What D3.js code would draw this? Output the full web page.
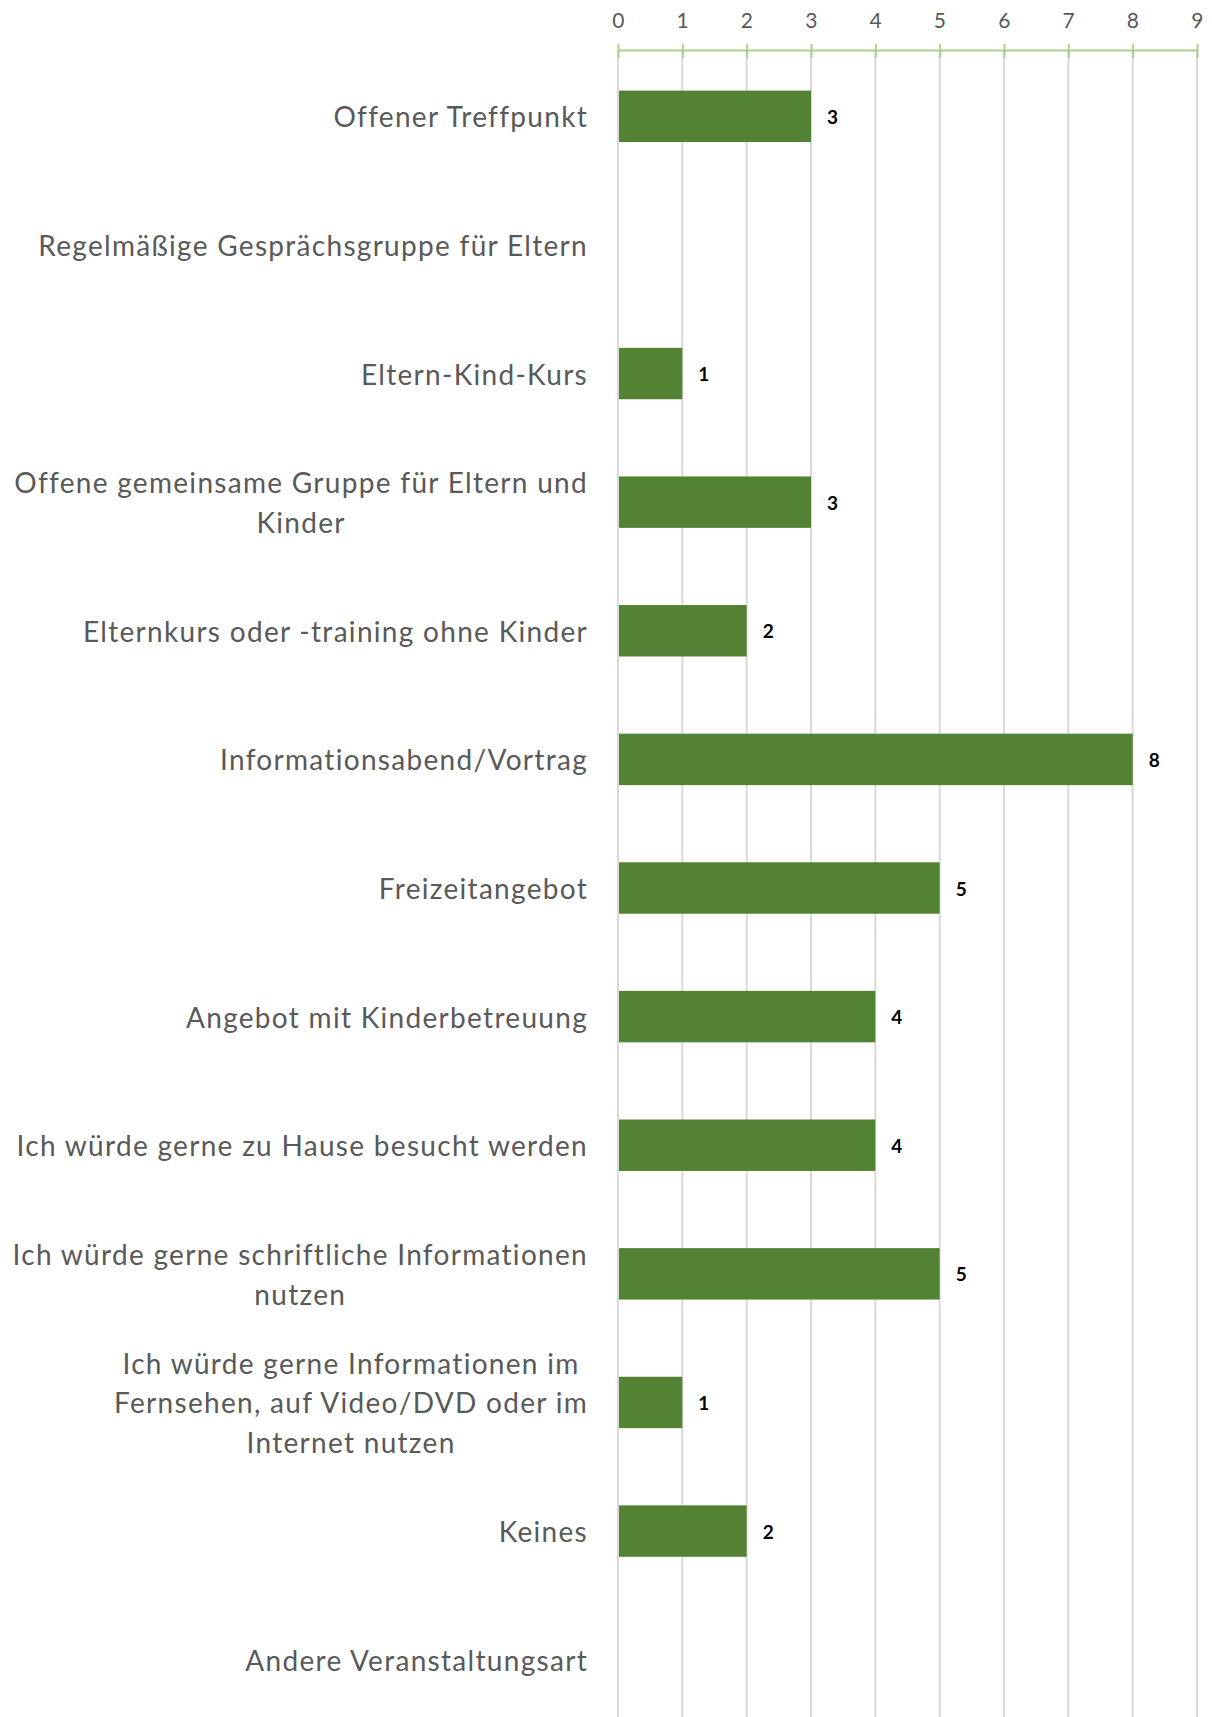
<!DOCTYPE html>
<html>
<head>
<meta charset="utf-8">
<script src="https://cdn.jsdelivr.net/npm/d3@7"></script>
<style>
  html, body { margin: 0; padding: 0; background: #fff; }
  svg { display: block; }
</style>
</head>
<body>
<svg id="chart" width="1212" height="1717"></svg>
<script>
const categories = [
  "Offener Treffpunkt",
  "Regelmäßige Gesprächsgruppe für Eltern",
  "Eltern-Kind-Kurs",
  "Offene gemeinsame Gruppe für Eltern und Kinder",
  "Elternkurs oder -training ohne Kinder",
  "Informationsabend/Vortrag",
  "Freizeitangebot",
  "Angebot mit Kinderbetreuung",
  "Ich würde gerne zu Hause besucht werden",
  "Ich würde gerne schriftliche Informationen nutzen",
  "Ich würde gerne Informationen im Fernsehen, auf Video/DVD oder im Internet nutzen",
  "Keines",
  "Andere Veranstaltungsart"
];
const labelLines = [
  ["Offener Treffpunkt"],
  ["Regelmäßige Gesprächsgruppe für Eltern"],
  ["Eltern-Kind-Kurs"],
  ["Offene gemeinsame Gruppe für Eltern und", "Kinder"],
  ["Elternkurs oder -training ohne Kinder"],
  ["Informationsabend/Vortrag"],
  ["Freizeitangebot"],
  ["Angebot mit Kinderbetreuung"],
  ["Ich würde gerne zu Hause besucht werden"],
  ["Ich würde gerne schriftliche Informationen", "nutzen"],
  ["Ich würde gerne Informationen im", "Fernsehen, auf Video/DVD oder im", "Internet nutzen"],
  ["Keines"],
  ["Andere Veranstaltungsart"]
];
const values = [3, 0, 1, 3, 2, 8, 5, 4, 4, 5, 1, 2, 0];
const tickValues = [0, 1, 2, 3, 4, 5, 6, 7, 8, 9];

const svg = d3.select("#chart");
const W = 1212, H = 1717;
const x0 = 618, x1 = 1197;
const axisY = 50;
const fontFam = "Lato, 'Open Sans', sans-serif";

const x = d3.scaleLinear().domain([0, 9]).range([x0, x1]);
const y = d3.scaleBand().domain(categories).range([52, 1724]).paddingInner(0.6).paddingOuter(0.3);

// gridlines
svg.append("g").selectAll("line").data(tickValues).join("line")
  .attr("x1", d => x(d)).attr("x2", d => x(d))
  .attr("y1", axisY).attr("y2", H)
  .attr("stroke", "#d9d9d9").attr("stroke-width", 2);

// top axis
const axis = d3.axisTop(x).tickValues(tickValues).tickSize(0).tickPadding(0).tickFormat(d3.format("d"));
const ga = svg.append("g").attr("transform", `translate(0,${axisY})`).call(axis);
ga.select(".domain").attr("stroke", "#a9d18e").attr("stroke-width", 2);
ga.selectAll(".tick line").remove();
ga.selectAll(".tick").append("line")
  .attr("y1", -6).attr("y2", 8)
  .attr("stroke", "#a9d18e").attr("stroke-width", 2);
ga.selectAll(".tick text")
  .attr("y", -22)
  .attr("fill", "#595959")
  .style("font-family", fontFam)
  .style("font-size", "21px")
  .style("letter-spacing", "0.5px");

// bars + data labels
const bars = svg.append("g");
values.forEach((v, i) => {
  if (v <= 0) return;
  bars.append("rect")
    .attr("x", x(0) + 1)
    .attr("y", y(categories[i]))
    .attr("width", x(v) - x(0) - 1)
    .attr("height", y.bandwidth())
    .attr("fill", "#548235");
  bars.append("text")
    .attr("x", x(v) + 16)
    .attr("y", y(categories[i]) + y.bandwidth() / 2)
    .attr("dominant-baseline", "central")
    .attr("fill", "#000")
    .style("font-family", fontFam)
    .style("font-weight", "bold")
    .style("font-size", "19px")
    .text(v);
});

// category labels
const labelRight = 588;
const lineH = 39.5;
const lg = svg.append("g");
labelLines.forEach((lines, i) => {
  const cy = y(categories[i]) + y.bandwidth() / 2;
  const g = lg.append("g");
  const texts = lines.map((l, j) => g.append("text")
    .attr("y", cy + (j - (lines.length - 1) / 2) * lineH)
    .attr("dominant-baseline", "central")
    .attr("fill", "#595959")
    .style("font-family", fontFam)
    .style("font-size", "28px")
    .style("letter-spacing", "1.3px")
    .text(l));
  const widths = texts.map(t => t.node().getComputedTextLength());
  const maxW = Math.max(...widths);
  const cx = labelRight - maxW / 2;
  texts.forEach(t => t.attr("x", cx).attr("text-anchor", "middle"));
});
</script>
</body>
</html>
